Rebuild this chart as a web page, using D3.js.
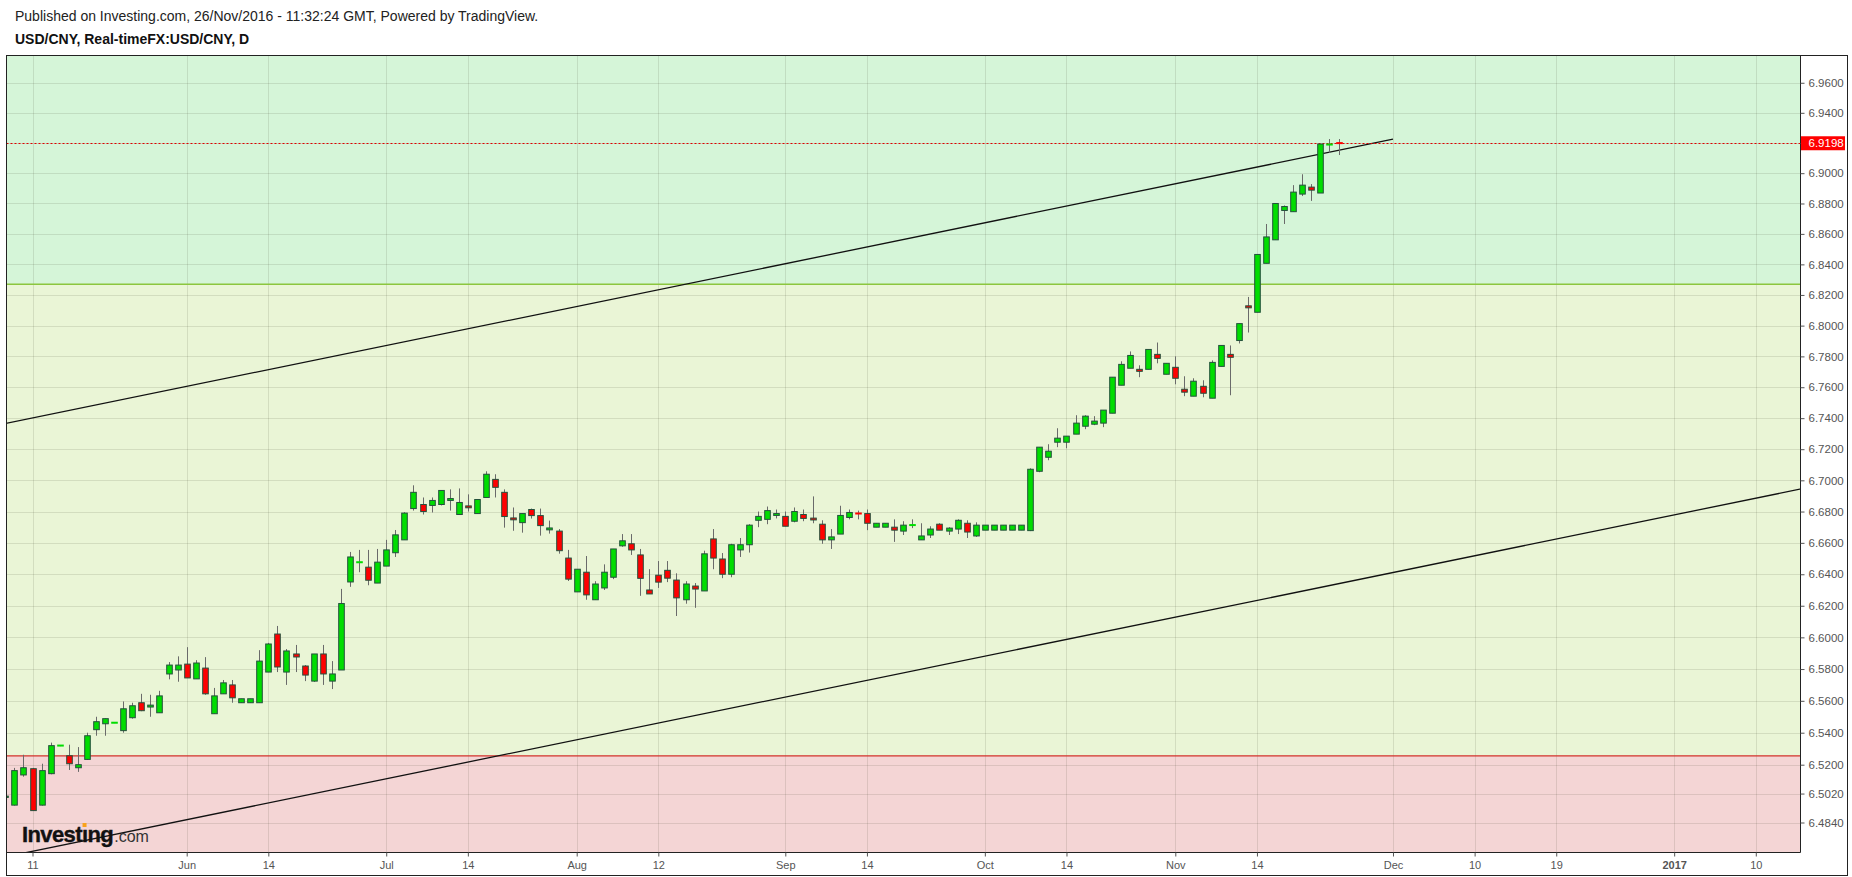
<!DOCTYPE html>
<html><head><meta charset="utf-8">
<script src="https://cdn.jsdelivr.net/npm/d3@7/dist/d3.min.js"></script>
<style>
html,body{margin:0;padding:0;background:#fff;}
svg{display:block;font-family:"Liberation Sans",Arial,Helvetica,sans-serif;}
</style></head><body>
<svg id="chart" width="1852" height="877"></svg>
<script>
// ---------------- DATA ----------------
const titleLine1 = "Published on Investing.com, 26/Nov/2016 - 11:32:24 GMT, Powered by TradingView.";
const titleLine2 = "USD/CNY, Real-timeFX:USD/CNY, D";
const firstBar = -3; // bar index of the first candle (bar 0 = "11")
const opens = [6.4996,6.4948,6.5136,6.5175,6.4948,6.5144,6.5319,6.5256,6.5181,6.5233,
 6.5419,6.5456,6.5462,6.5413,6.5494,6.5588,6.5561,6.5525,6.5769,6.5794,
 6.5831,6.5738,6.5806,6.5519,6.5644,6.5700,6.5588,6.5588,6.5588,6.5781,
 6.6021,6.5781,6.5895,6.5819,6.5724,6.5895,6.5724,6.5794,6.6351,6.6476,
 6.6445,6.6344,6.6452,6.6537,6.6619,6.6819,6.6845,6.6839,6.6845,6.6871,
 6.6781,6.6836,6.6787,6.6890,6.7006,6.6923,6.6759,6.6729,6.6813,6.6774,
 6.6683,6.6675,6.6503,6.6288,6.6413,6.6238,6.6313,6.6381,6.6581,6.6594,
 6.6523,6.6300,6.6394,6.6425,6.6363,6.6238,6.6325,6.6294,6.6625,6.6497,
 6.6400,6.6555,6.6588,6.6744,6.6750,6.6775,6.6769,6.6738,6.6781,6.6758,
 6.6719,6.6619,6.6656,6.6762,6.6788,6.6787,6.6700,6.6700,6.6700,6.6675,
 6.6713,6.6619,6.6650,6.6719,6.6675,6.6688,6.6725,6.6644,6.6681,6.6681,
 6.6681,6.6681,6.6681,6.6678,6.7058,6.7148,6.7245,6.7245,6.7297,6.7348,
 6.7361,6.7368,6.7432,6.7613,6.7723,6.7716,6.7716,6.7813,6.7684,6.7729,
 6.7587,6.7542,6.7606,6.7529,6.7735,6.7813,6.7903,6.8129,6.8087,6.8407,
 6.8561,6.8754,6.8746,6.8862,6.8908,6.8869,6.9189,6.9200];
const highs = [6.5008,6.5180,6.5262,6.5180,6.5206,6.5338,6.5322,6.5325,6.5310,6.5400,
 6.5500,6.5490,6.5465,6.5596,6.5588,6.5644,6.5638,6.5663,6.5844,6.5880,
 6.5938,6.5856,6.5875,6.5681,6.5731,6.5731,6.5613,6.5613,6.5919,6.5965,
 6.6072,6.5926,6.5952,6.5825,6.5895,6.5952,6.5850,6.6307,6.6542,6.6555,
 6.6555,6.6561,6.6619,6.6682,6.6796,6.6968,6.6890,6.6890,6.6935,6.6942,
 6.6948,6.6910,6.6877,6.7058,6.7039,6.6942,6.6826,6.6787,6.6819,6.6819,
 6.6742,6.6688,6.6555,6.6432,6.6516,6.6356,6.6463,6.6561,6.6656,6.6656,
 6.6561,6.6432,6.6484,6.6484,6.6406,6.6356,6.6344,6.6550,6.6688,6.6535,
 6.6594,6.6631,6.6719,6.6800,6.6832,6.6813,6.6800,6.6826,6.6813,6.6897,
 6.6744,6.6688,6.6837,6.6813,6.6806,6.6813,6.6725,6.6725,6.6750,6.6738,
 6.6750,6.6725,6.6706,6.6725,6.6700,6.6750,6.6744,6.6731,6.6713,6.6713,
 6.6713,6.6713,6.6713,6.7077,6.7213,6.7232,6.7335,6.7284,6.7419,6.7419,
 6.7413,6.7452,6.7665,6.7768,6.7832,6.7742,6.7845,6.7890,6.7755,6.7800,
 6.7671,6.7658,6.7645,6.7774,6.7871,6.7871,6.8013,6.8187,6.8465,6.8665,
 6.8800,6.8787,6.8921,6.8993,6.8928,6.9193,6.9226,6.9226];
const lows = [6.4996,6.4945,6.5125,6.4912,6.4945,6.5140,6.5316,6.5167,6.5155,6.5230,
 6.5381,6.5381,6.5460,6.5400,6.5488,6.5535,6.5500,6.5525,6.5735,6.5720,
 6.5744,6.5738,6.5638,6.5519,6.5644,6.5588,6.5588,6.5588,6.5588,6.5780,
 6.5781,6.5700,6.5781,6.5724,6.5719,6.5700,6.5674,6.5794,6.6320,6.6413,
 6.6330,6.6344,6.6452,6.6510,6.6619,6.6806,6.6781,6.6794,6.6839,6.6806,
 6.6781,6.6800,6.6787,6.6890,6.6890,6.6697,6.6677,6.6665,6.6755,6.6646,
 6.6659,6.6531,6.6357,6.6288,6.6238,6.6238,6.6300,6.6369,6.6575,6.6523,
 6.6263,6.6275,6.6313,6.6350,6.6135,6.6213,6.6187,6.6294,6.6432,6.6375,
 6.6381,6.6510,6.6538,6.6700,6.6719,6.6756,6.6706,6.6731,6.6738,6.6725,
 6.6594,6.6561,6.6656,6.6750,6.6750,6.6681,6.6700,6.6700,6.6606,6.6650,
 6.6694,6.6619,6.6631,6.6681,6.6650,6.6656,6.6631,6.6638,6.6681,6.6681,
 6.6681,6.6681,6.6681,6.6675,6.7052,6.7129,6.7213,6.7206,6.7297,6.7329,
 6.7355,6.7342,6.7432,6.7613,6.7723,6.7665,6.7716,6.7755,6.7684,6.7619,
 6.7542,6.7542,6.7535,6.7529,6.7735,6.7548,6.7884,6.7955,6.8087,6.8407,
 6.8561,6.8665,6.8746,6.8849,6.8817,6.8869,6.9135,6.9120];
const closes = [6.5004,6.5163,6.5181,6.4914,6.5163,6.5319,6.5320,6.5206,6.5200,6.5381,
 6.5469,6.5488,6.5463,6.5550,6.5569,6.5538,6.5573,6.5631,6.5825,6.5825,
 6.5744,6.5838,6.5644,6.5631,6.5713,6.5619,6.5613,6.5613,6.5850,6.5958,
 6.5813,6.5914,6.5876,6.5762,6.5895,6.5769,6.5769,6.6214,6.6510,6.6477,
 6.6362,6.6477,6.6555,6.6651,6.6790,6.6923,6.6800,6.6871,6.6935,6.6883,
 6.6858,6.6824,6.6877,6.7039,6.6955,6.6768,6.6747,6.6787,6.6774,6.6710,
 6.6695,6.6550,6.6369,6.6432,6.6269,6.6338,6.6413,6.6561,6.6613,6.6555,
 6.6374,6.6275,6.6350,6.6375,6.6250,6.6338,6.6306,6.6530,6.6503,6.6400,
 6.6588,6.6588,6.6713,6.6769,6.6806,6.6787,6.6706,6.6800,6.6756,6.6746,
 6.6619,6.6638,6.6775,6.6794,6.6787,6.6725,6.6725,6.6725,6.6681,6.6713,
 6.6714,6.6644,6.6688,6.6681,6.6694,6.6744,6.6669,6.6713,6.6713,6.6713,
 6.6713,6.6713,6.6713,6.7071,6.7213,6.7187,6.7271,6.7284,6.7368,6.7413,
 6.7381,6.7452,6.7665,6.7748,6.7806,6.7703,6.7845,6.7787,6.7755,6.7658,
 6.7568,6.7639,6.7561,6.7761,6.7871,6.7794,6.8013,6.8116,6.8465,6.8580,
 6.8800,6.8780,6.8875,6.8921,6.8888,6.9193,6.9190,6.9198];
const xTickBars = [0,17,26,39,48,60,69,83,92,105,114,126,135,150,159,168,181,190];
const xTickLabels = ["11","Jun","14","Jul","14","Aug","12","Sep","14","Oct","14","Nov","14","Dec","10","19","2017","10"];
const yTickValues = [6.96,6.94,6.92,6.90,6.88,6.86,6.84,6.82,6.80,6.78,6.76,6.74,6.72,6.70,6.68,6.66,6.64,6.62,6.60,6.58,6.56,6.54,6.52,6.502,6.484];
const yTickLabels = ["6.9600","6.9400","6.9200","6.9000","6.8800","6.8600","6.8400","6.8200","6.8000","6.7800","6.7600","6.7400","6.7200","6.7000","6.6800","6.6600","6.6400","6.6200","6.6000","6.5800","6.5600","6.5400","6.5200","6.5020","6.4840"];
const lastPrice = 6.9198;
const lastPriceLabel = "6.9198";
const greenZoneFrom = 6.827;   // green rectangle: from this level up
const redZoneTo = 6.5255;      // red rectangle: below this level
const upperTrend = [[-3, 6.7365], [150, 6.9225]];
const lowerTrend = [[-3, 6.4627], [195, 6.6945]];
const xDomain = [-2.867, 194.93];
const yDomain = [6.4654, 6.9782];

// ---------------- LAYOUT ----------------
const L = 6.5, R = 1800.5, T = 55.5, B = 852.5;
const svg = d3.select("#chart");
const x = d3.scaleLinear().domain(xDomain).range([L, R]);
const y = d3.scaleLog().domain(yDomain).range([B, T]);

svg.append("rect").attr("width",1852).attr("height",877).attr("fill","#fff");

// header
svg.append("text").attr("x",15).attr("y",21).attr("font-size",14).attr("fill","#222").text(titleLine1);
svg.append("text").attr("x",15).attr("y",44).attr("font-size",14).attr("font-weight","bold").attr("fill","#111").text(titleLine2);

svg.append("defs").append("clipPath").attr("id","plotclip")
  .append("rect").attr("x",L).attr("y",T).attr("width",R-L).attr("height",B-T);
const plot = svg.append("g").attr("clip-path","url(#plotclip)");

// zones
plot.append("rect").attr("x",L).attr("width",R-L).attr("y",T).attr("height",y(greenZoneFrom)-T).attr("fill","#d5f5d8");
plot.append("rect").attr("x",L).attr("width",R-L).attr("y",y(greenZoneFrom)).attr("height",y(redZoneTo)-y(greenZoneFrom)).attr("fill","#eaf5d6");
plot.append("rect").attr("x",L).attr("width",R-L).attr("y",y(redZoneTo)).attr("height",B-y(redZoneTo)).attr("fill","#f4d5d5");

// grid
const crisp = v => Math.round(v) + 0.5;
plot.selectAll("line.hg").data(yTickValues).join("line").attr("class","hg")
  .attr("x1",L).attr("x2",R).attr("y1",d=>crisp(y(d))).attr("y2",d=>crisp(y(d)))
  .attr("stroke","rgba(60,60,40,0.13)").attr("stroke-width",1);
plot.selectAll("line.vg").data(xTickBars).join("line").attr("class","vg")
  .attr("y1",T).attr("y2",B).attr("x1",d=>crisp(x(d))).attr("x2",d=>crisp(x(d)))
  .attr("stroke","rgba(60,60,40,0.13)").attr("stroke-width",1);

// zone borders
plot.append("line").attr("x1",L).attr("x2",R).attr("y1",y(greenZoneFrom)).attr("y2",y(greenZoneFrom)).attr("stroke","#8cc63e").attr("stroke-width",1.5);
plot.append("line").attr("x1",L).attr("x2",R).attr("y1",y(redZoneTo)).attr("y2",y(redZoneTo)).attr("stroke","#d2322a").attr("stroke-width",1.2);

// trend lines
[upperTrend, lowerTrend].forEach(t => {
  plot.append("line").attr("x1",x(t[0][0])).attr("y1",y(t[0][1])).attr("x2",x(t[1][0])).attr("y2",y(t[1][1]))
    .attr("stroke","#111").attr("stroke-width",1.3);
});

// last price dotted line
plot.append("line").attr("x1",L).attr("x2",R).attr("y1",crisp(y(lastPrice))).attr("y2",crisp(y(lastPrice)))
  .attr("stroke","#e00000").attr("stroke-width",1).attr("stroke-dasharray","2,2");

// candles
const bars = opens.map((o,k)=>({i:firstBar+k, o, h:highs[k], l:lows[k], c:closes[k]}));
const bw = 5.6;
const up = "#00dd00", down = "#ff0000", border = "#24503c";
plot.selectAll("line.wick").data(bars).join("line").attr("class","wick")
  .attr("x1",d=>crisp(x(d.i))).attr("x2",d=>crisp(x(d.i)))
  .attr("y1",d=>y(d.h)).attr("y2",d=>y(d.l))
  .attr("stroke","#6a6a6a").attr("stroke-width",1);
bars.forEach(d => {
  const top = y(Math.max(d.o,d.c)), bot = y(Math.min(d.o,d.c));
  const cx = crisp(x(d.i));
  const fill = d.c >= d.o ? up : down;
  if (bot - top < 1) {
    plot.append("rect").attr("x",cx-bw/2-0.5).attr("width",bw+1).attr("y",(top+bot)/2-1).attr("height",2).attr("fill",fill);
  } else {
    plot.append("rect").attr("x",cx-bw/2).attr("width",bw).attr("y",top).attr("height",bot-top)
      .attr("fill",fill).attr("stroke",border).attr("stroke-width",1);
  }
});

// Investing.com logo
const logo = svg.append("text").attr("x",22).attr("y",842).attr("fill","#111");
logo.append("tspan").attr("font-size",22).attr("font-weight","bold").attr("letter-spacing","-0.6")
  .attr("stroke","#111").attr("stroke-width",0.4).text("Invest\u0131ng");
logo.append("tspan").attr("font-size",16).attr("fill","#333").attr("dx",1).text(".com");
const iPos = logo.node().getStartPositionOfChar(6);
const iW = logo.node().getExtentOfChar(6).width;
svg.append("rect").attr("x",iPos.x+iW/2-2.2).attr("y",823).attr("width",4).attr("height",4).attr("fill","#f7a21b");

// frame
svg.append("rect").attr("x",L).attr("y",T).attr("width",1847.5-L).attr("height",875.5-T).attr("fill","none").attr("stroke","#222").attr("stroke-width",1);
svg.append("line").attr("x1",R).attr("x2",R).attr("y1",T).attr("y2",B).attr("stroke","#222");
svg.append("line").attr("x1",L).attr("x2",R).attr("y1",B).attr("y2",B).attr("stroke","#222");

// y axis
const yAxis = d3.axisRight(y).tickValues(yTickValues).tickFormat((d,k)=>yTickLabels[k]).tickSize(4).tickPadding(4);
const ya = svg.append("g").attr("transform",`translate(${R},0)`).call(yAxis);
ya.select(".domain").remove();
ya.selectAll(".tick line").attr("stroke","#555");
ya.selectAll(".tick text").attr("fill","#555").attr("font-size",11.5).attr("font-family","\"Liberation Sans\",Arial,sans-serif");

// x axis
const xAxis = d3.axisBottom(x).tickValues(xTickBars).tickFormat((d,k)=>xTickLabels[k]).tickSize(4).tickPadding(5);
const xa = svg.append("g").attr("transform",`translate(0,${B})`).call(xAxis);
xa.select(".domain").remove();
xa.selectAll(".tick line").attr("stroke","#555");
xa.selectAll(".tick text").attr("fill","#555").attr("font-size",11).attr("font-family","\"Liberation Sans\",Arial,sans-serif")
  .attr("font-weight",(d,k)=>xTickLabels[k]==="2017"?"bold":"normal");

// last price label
const py = y(lastPrice);
svg.append("rect").attr("x",R+0.5).attr("y",py-7).attr("width",44).attr("height",14).attr("fill","#ff0000");
svg.append("text").attr("x",R+8).attr("y",py).attr("dy","0.35em").attr("font-size",11.5).attr("fill","#fff").text(lastPriceLabel);
</script>
</body></html>
